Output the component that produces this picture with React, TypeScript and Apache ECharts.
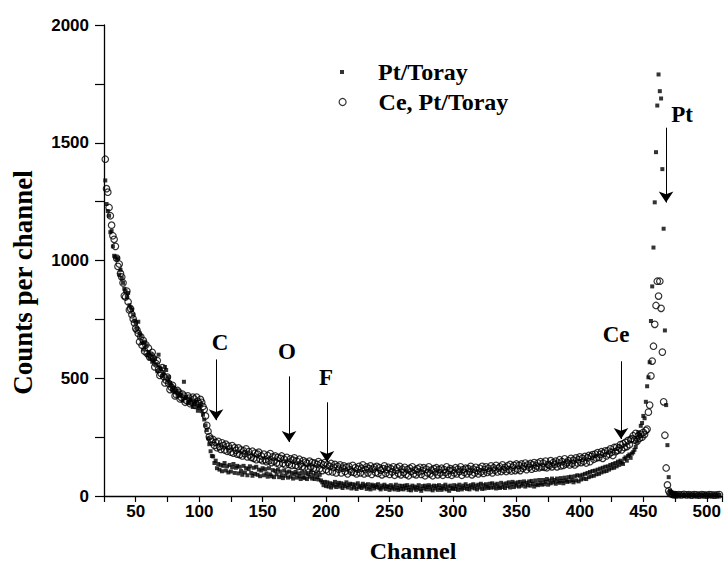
import React, { useEffect, useRef } from "react";
import * as echarts from "echarts";

// Channel grid: the spectrum is sampled on consecutive MCA channels
function channelRange(first: number, last: number, step: number) {
  const out: number[] = [];
  for (let c = first; c <= last; c += step) out.push(c);
  return out;
}
const decayChannels = channelRange(26, 110, 1); // 85 channels
const flatChannels = channelRange(111, 444, 1); // 334 channels
const peakChannels = channelRange(445, 476, 1); // 32 channels
const tailChannels = channelRange(478, 510, 2); // 17 channels

// ---- Pt/Toray counts ----
const ptDecay = [
  1340, 1240, 1210, 1190, 1120, 1125, 1060, 1020, 1015, 1005, // 26-35
  1010, 940, 960, 925, 905, 880, 870, 845, 862, 810, // 36-45
  800, 790, 770, 745, 735, 710, 740, 690, 680, 650, // 46-55
  622, 655, 640, 598, 610, 585, 600, 570, 575, 585, // 56-65
  560, 530, 600, 545, 540, 510, 520, 548, 535, 490, // 66-75
  505, 480, 470, 450, 460, 440, 448, 425, 440, 430, // 76-85
  425, 405, 485, 415, 420, 395, 400, 410, 395, 378, // 86-95
  390, 400, 380, 362, 375, 385, 360, 345, 325, 300, // 96-105
  280, 245, 220, 190, 170, // 106-110
];
const ptFlat = [
  168, 140, 150, 118, 136, 112, 132, 105, 128, 140, // 111-120
  108, 126, 100, 132, 104, 122, 136, 98, 120, 128, // 121-130
  96, 124, 106, 90, 128, 100, 118, 88, 114, 126, // 131-140
  98, 86, 120, 94, 124, 90, 112, 84, 108, 118, // 141-150
  88, 114, 96, 82, 118, 92, 84, 110, 80, 106, // 151-160
  92, 112, 80, 104, 88, 76, 108, 86, 100, 78, // 161-170
  104, 82, 98, 74, 92, 102, 78, 96, 84, 72, // 171-180
  98, 80, 76, 96, 72, 92, 82, 100, 74, 88, // 181-190
  72, 96, 80, 70, 90, 66, 58, 46, 60, 42, // 191-200
  58, 40, 54, 36, 52, 44, 60, 38, 48, 56, // 201-210
  40, 54, 34, 50, 42, 58, 36, 46, 52, 32, // 211-220
  50, 36, 48, 30, 54, 38, 44, 34, 52, 40, // 221-230
  46, 30, 50, 36, 28, 48, 42, 32, 46, 38, // 231-240
  50, 34, 28, 44, 36, 48, 30, 42, 38, 26, // 241-250
  46, 32, 40, 28, 48, 34, 26, 44, 30, 42, // 251-260
  28, 44, 34, 46, 26, 38, 24, 44, 32, 40, // 261-270
  26, 36, 46, 30, 22, 42, 32, 44, 28, 38, // 271-280
  46, 28, 40, 24, 44, 32, 42, 26, 46, 34, // 281-290
  26, 42, 32, 48, 28, 40, 22, 44, 34, 30, // 291-300
  46, 30, 42, 26, 48, 36, 28, 44, 34, 50, // 301-310
  30, 42, 28, 46, 36, 50, 32, 44, 28, 48, // 311-320
  36, 52, 30, 46, 32, 50, 40, 34, 52, 36, // 321-330
  54, 36, 48, 32, 52, 40, 34, 56, 38, 50, // 331-340
  34, 54, 42, 58, 36, 50, 60, 38, 54, 44, // 341-350
  58, 40, 60, 44, 52, 62, 40, 56, 46, 62, // 351-360
  44, 64, 52, 40, 66, 50, 46, 68, 54, 48, // 361-370
  68, 50, 60, 72, 48, 66, 54, 74, 58, 68, // 371-380
  52, 74, 62, 56, 76, 64, 54, 78, 66, 60, // 381-390
  80, 62, 82, 68, 58, 84, 66, 88, 62, 86, // 391-400
  70, 90, 74, 94, 72, 98, 80, 102, 84, 106, // 401-410
  86, 108, 92, 112, 94, 116, 100, 120, 104, 124, // 411-420
  106, 126, 112, 132, 118, 136, 120, 140, 126, 146, // 421-430
  132, 150, 142, 136, 158, 164, 150, 170, 176, 162, // 431-440
  180, 186, 196, 208, // 441-444
];
const ptPeak = [
  230, 271, 255, 298, 310, 340, 330, 400, 466, 504, 568, 743, 890, 1055, 1247, 1460,
  1658, 1790, 1719, 1688, 1388, 1135, 703, 386, 216, 80, 22, 12, 9, 7, 6, 5,
];
const ptTail = [5, 6, 4, 5, 6, 4, 5, 3, 5, 4, 6, 4, 5, 3, 4, 5, 4];

// ---- Ce, Pt/Toray counts ----
const ceDecay = [
  1430, 1305, 1290, 1225, 1190, 1150, 1105, 1090, 1060, 1010, // 26-35
  975, 985, 945, 930, 905, 850, 845, 870, 825, 790, // 36-45
  795, 770, 752, 735, 712, 705, 690, 655, 676, 640, // 46-55
  660, 615, 642, 605, 628, 590, 598, 610, 584, 548, // 56-65
  562, 575, 538, 512, 520, 545, 508, 480, 492, 505, // 66-75
  478, 452, 462, 470, 452, 425, 430, 448, 440, 412, // 76-85
  418, 432, 424, 398, 406, 425, 416, 392, 398, 420, // 86-95
  412, 385, 420, 402, 392, 410, 398, 380, 368, 340, // 96-105
  300, 275, 252, 242, 230, // 106-110
];
const ceFlat = [
  240, 215, 228, 205, 232, 210, 198, 226, 214, 196, // 111-120
  220, 190, 212, 200, 186, 214, 182, 205, 194, 178, // 121-130
  204, 176, 196, 170, 192, 180, 200, 166, 188, 174, // 131-140
  164, 190, 160, 182, 154, 178, 186, 156, 170, 150, // 141-150
  178, 154, 146, 172, 150, 180, 142, 166, 148, 170, // 151-160
  140, 164, 136, 160, 170, 138, 156, 132, 164, 144, // 161-170
  134, 158, 130, 152, 162, 130, 148, 126, 156, 136, // 171-180
  124, 150, 120, 144, 138, 116, 148, 124, 142, 118, // 181-190
  140, 114, 134, 146, 116, 138, 108, 132, 142, 112, // 191-200
  132, 104, 126, 138, 102, 122, 134, 98, 126, 114, // 201-210
  132, 98, 118, 128, 104, 122, 94, 126, 112, 102, // 211-220
  130, 100, 120, 94, 114, 126, 98, 118, 132, 94, // 221-230
  112, 124, 98, 116, 128, 92, 114, 122, 100, 126, // 231-240
  96, 120, 110, 90, 116, 128, 96, 112, 122, 92, // 241-250
  116, 102, 124, 88, 110, 120, 96, 126, 90, 114, // 251-260
  100, 122, 92, 112, 86, 118, 104, 124, 94, 110, // 261-270
  90, 116, 102, 122, 92, 108, 120, 86, 114, 98, // 271-280
  124, 94, 110, 86, 116, 102, 120, 90, 112, 98, // 281-290
  118, 88, 112, 100, 124, 92, 108, 116, 88, 110, // 291-300
  98, 120, 94, 114, 104, 124, 88, 112, 100, 118, // 301-310
  94, 116, 104, 126, 90, 114, 98, 122, 108, 94, // 311-320
  118, 102, 126, 96, 112, 124, 100, 118, 106, 128, // 321-330
  98, 120, 110, 130, 102, 118, 124, 104, 132, 112, // 331-340
  122, 104, 128, 112, 134, 106, 122, 130, 108, 136, // 341-350
  114, 130, 108, 136, 118, 126, 140, 112, 132, 122, // 351-360
  138, 114, 132, 142, 118, 128, 140, 120, 146, 124, // 361-370
  140, 122, 148, 120, 134, 130, 150, 124, 142, 134, // 371-380
  148, 124, 140, 154, 128, 146, 130, 158, 136, 142, // 381-390
  150, 132, 160, 138, 152, 132, 162, 140, 154, 166, // 391-400
  142, 160, 148, 168, 140, 162, 172, 146, 168, 176, // 401-410
  156, 178, 162, 184, 164, 176, 188, 160, 182, 192, // 411-420
  170, 192, 178, 200, 186, 172, 206, 188, 208, 194, // 421-430
  204, 218, 196, 222, 206, 228, 210, 236, 218, 240, // 431-440
  244, 256, 238, 266, // 441-444
];
const cePeak = [
  232, 255, 245, 262, 250, 270, 262, 278, 284, 356, 386, 510, 573, 636, 729, 809,
  912, 849, 912, 797, 611, 400, 258, 119, 47, 22, 12, 9, 7, 6, 6, 5,
];
const ceTail = [6, 5, 7, 5, 6, 4, 6, 5, 4, 6, 5, 4, 6, 5, 4, 5, 6];

// ---- Annotations (element surface edges), in data coordinates ----
const annotationNames = ["C", "O", "F", "Ce", "Pt"];
const annotationChannels = [113.3, 170.8, 200.7, 432.4, 467.9];
const arrowFrom = [580, 508, 398, 572, 1564];
const arrowTo = [322, 229, 144, 242, 1246];
const labelChannels = [116.5, 169.2, 200, 428.5, 480.5];
const labelCounts = [653, 614, 504, 686, 1619];

const xTickLabels = [50, 100, 150, 200, 250, 300, 350, 400, 450, 500];

const SERIF = "'Liberation Serif', 'Times New Roman', serif";
const SANS = "'Liberation Sans', Arial, sans-serif";

function zip(chs: number[], vals: number[]) {
  return chs.map((c, i) => [c, vals[i]]);
}

export default function App() {
  const ref = useRef<HTMLDivElement>(null);
  useEffect(() => {
    if (!ref.current) return;
    const chart = echarts.init(ref.current, undefined, { renderer: "svg" });
    const ptData = [
      ...zip(decayChannels, ptDecay),
      ...zip(flatChannels, ptFlat),
      ...zip(peakChannels, ptPeak),
      ...zip(tailChannels, ptTail),
    ];
    const ceData = [
      ...zip(decayChannels, ceDecay),
      ...zip(flatChannels, ceFlat),
      ...zip(peakChannels, cePeak),
      ...zip(tailChannels, ceTail),
    ];
    const legendText = {
      fontFamily: SERIF,
      fontWeight: "bold" as const,
      fontSize: 24,
      color: "#000",
    };
    chart.setOption({
      animation: false,
      backgroundColor: "#fff",
      grid: { left: 104, right: 6, top: 25, bottom: 71, containLabel: false },
      legend: [
        {
          data: [{ name: "Pt/Toray", icon: "rect" }],
          left: 340,
          top: 60,
          padding: 0,
          itemWidth: 4,
          itemHeight: 4,
          selectedMode: false,
          textStyle: { ...legendText, padding: [0, 0, 0, 29] },
        },
        {
          data: [{ name: "Ce, Pt/Toray", icon: "circle" }],
          left: 338.5,
          top: 90,
          padding: 0,
          itemWidth: 7,
          itemHeight: 7,
          selectedMode: false,
          itemStyle: { color: "rgba(0,0,0,0)", borderColor: "#000", borderWidth: 1.2 },
          textStyle: { ...legendText, padding: [0, 0, 0, 27.5] },
        },
      ],
      xAxis: {
        type: "value",
        min: 25,
        max: 512,
        interval: 25,
        name: "Channel",
        nameLocation: "middle",
        nameGap: 43,
        nameTextStyle: { fontFamily: SERIF, fontWeight: "bold", fontSize: 24, color: "#000" },
        axisLine: { show: true, onZero: false, lineStyle: { color: "#000", width: 1.3 } },
        axisTick: { show: true, inside: false, length: 6, lineStyle: { color: "#000", width: 1.2 } },
        axisLabel: {
          margin: 7,
          fontFamily: SANS,
          fontWeight: "bold",
          fontSize: 17,
          color: "#000",
          formatter: (v: number) => (xTickLabels.includes(v) ? String(v) : ""),
        },
        splitLine: { show: false },
      },
      yAxis: {
        type: "value",
        min: 0,
        max: 2000,
        interval: 500,
        name: "Counts per channel",
        nameLocation: "middle",
        nameRotate: 90,
        nameGap: 68,
        nameTextStyle: {
          fontFamily: SERIF,
          fontWeight: "bold",
          fontSize: 27,
          color: "#000",
          padding: [0, 44, 0, 0],
        },
        axisLine: { show: true, onZero: false, lineStyle: { color: "#000", width: 1.3 } },
        axisTick: { show: true, inside: false, length: 9, lineStyle: { color: "#000", width: 1.2 } },
        minorTick: { show: true, splitNumber: 2, length: 9, lineStyle: { color: "#000", width: 1.2 } },
        axisLabel: {
          margin: 15,
          fontFamily: SANS,
          fontWeight: "bold",
          fontSize: 17,
          color: "#000",
          formatter: (v: number) => String(v),
        },
        splitLine: { show: false },
        minorSplitLine: { show: false },
      },
      series: [
        {
          type: "scatter",
          name: "Pt/Toray",
          data: ptData,
          symbol: "rect",
          symbolSize: 4,
          itemStyle: { color: "#000" },
          emphasis: { disabled: true },
          markLine: {
            silent: true,
            symbol: ["none", "arrow"],
            symbolSize: 11,
            lineStyle: { color: "#000", width: 1, type: "solid" },
            label: { show: false },
            data: annotationNames.map((n, i) => [
              { coord: [annotationChannels[i], arrowFrom[i]] },
              { coord: [annotationChannels[i], arrowTo[i]] },
            ]),
          },
          markPoint: {
            silent: true,
            symbol: "rect",
            symbolSize: 1,
            itemStyle: { color: "rgba(0,0,0,0)" },
            label: {
              show: true,
              position: "inside",
              formatter: "{b}",
              fontFamily: SERIF,
              fontWeight: "bold",
              fontSize: 23,
              color: "#000",
            },
            data: annotationNames.map((n, i) => ({
              name: n,
              coord: [labelChannels[i], labelCounts[i]],
            })),
          },
        },
        {
          type: "scatter",
          name: "Ce, Pt/Toray",
          data: ceData,
          symbol: "circle",
          symbolSize: 6.5,
          itemStyle: { color: "rgba(0,0,0,0)", borderColor: "#000", borderWidth: 1.2 },
          emphasis: { disabled: true },
        },
      ],
    });
    return () => chart.dispose();
  }, []);
  return (
    <div
      ref={ref}
      style={{ position: "fixed", left: 0, top: 0, width: 728, height: 568, background: "#fff" }}
    />
  );
}
